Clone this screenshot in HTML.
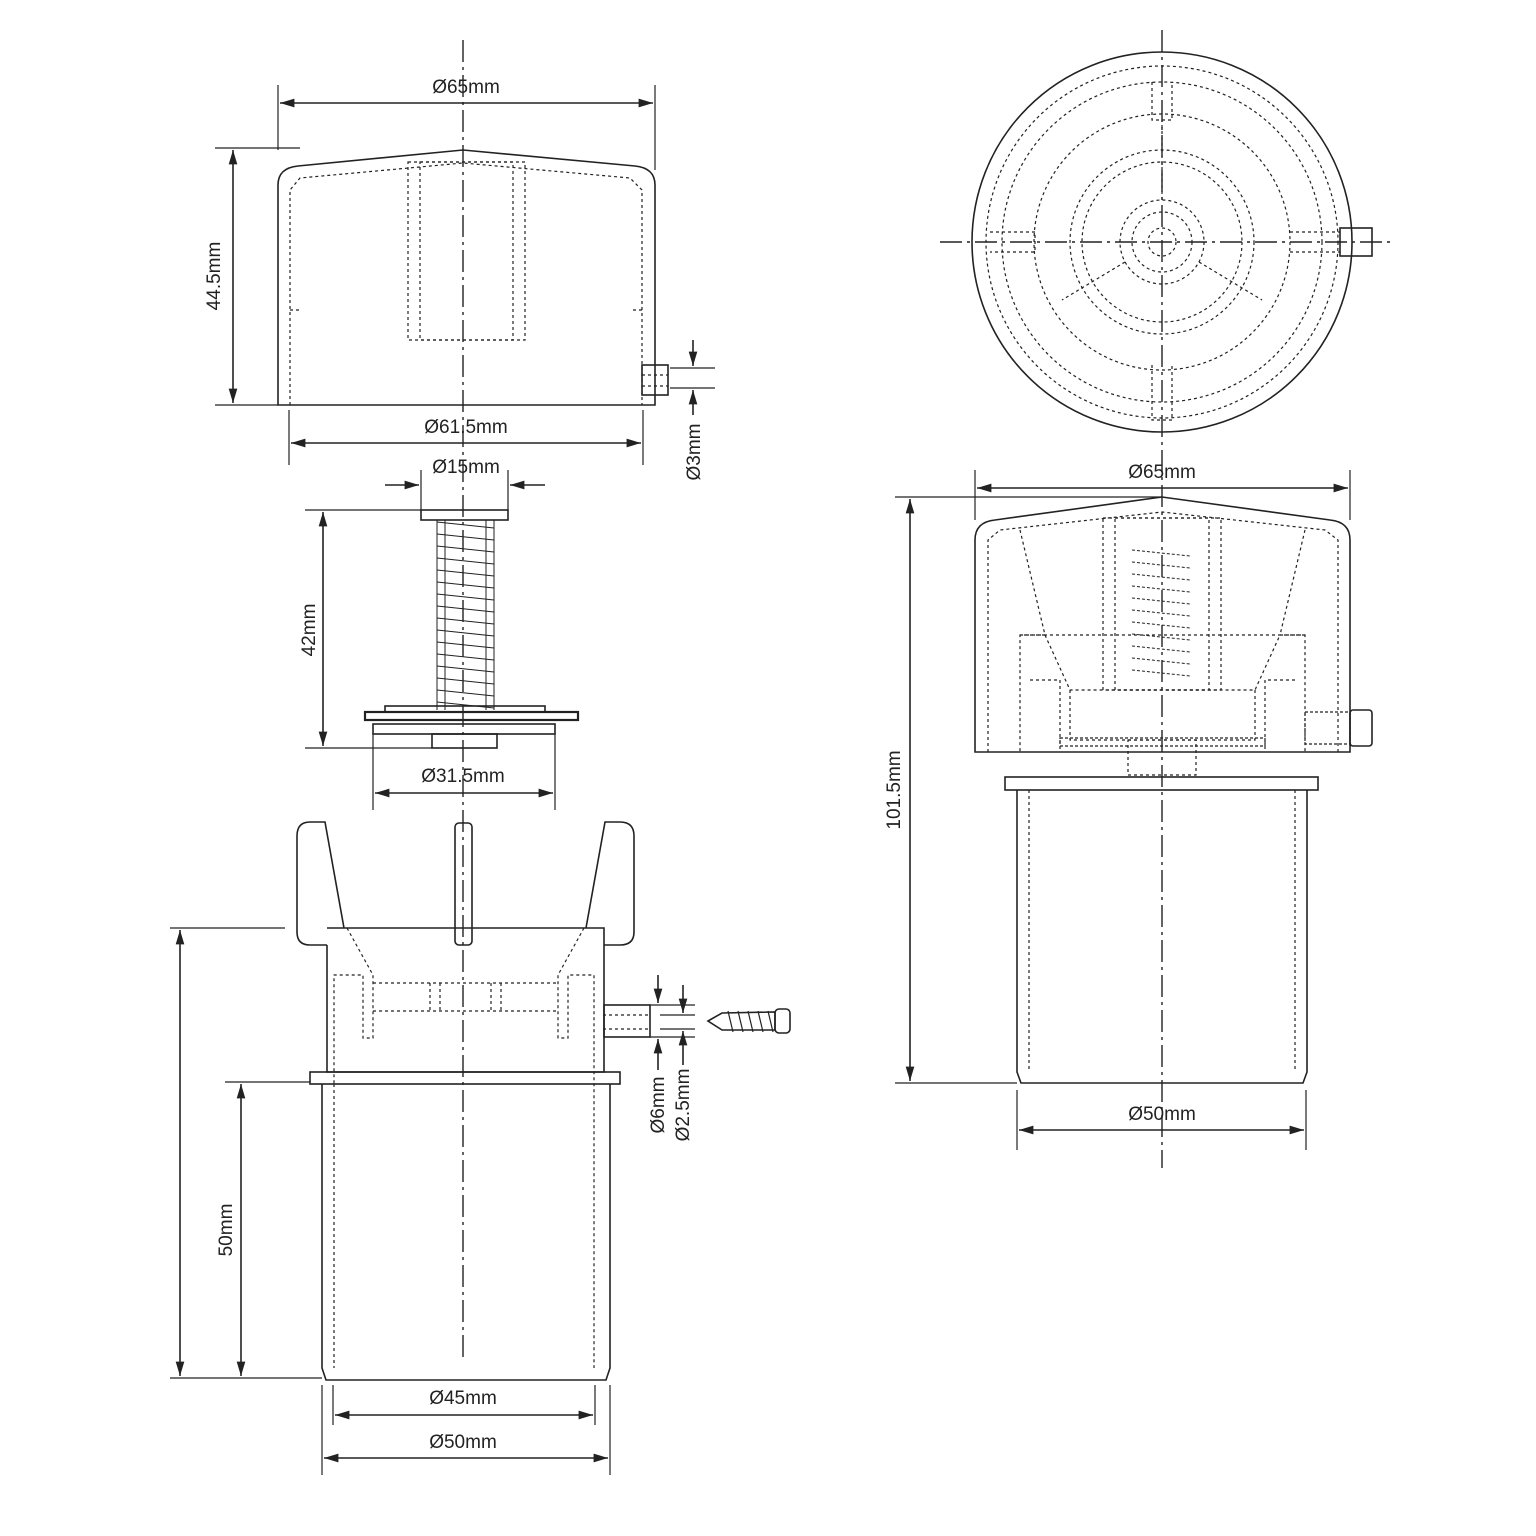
<!DOCTYPE html>
<html><head><meta charset="utf-8"><style>
html,body{margin:0;padding:0;background:#fff}
svg{display:block}
text{font-family:"Liberation Sans",sans-serif;font-size:19px;fill:#222}
</style></head><body>
<svg width="1536" height="1536" viewBox="0 0 1536 1536" xmlns="http://www.w3.org/2000/svg">
<defs>
<marker id="a" viewBox="0 0 10 10" refX="10" refY="5" markerWidth="9" markerHeight="9" orient="auto-start-reverse"><path d="M0,2 L10,5 L0,8 z" fill="#222"/></marker>
</defs>
<g fill="none" stroke="#222" stroke-width="1.6">
<!-- centerlines -->
<g stroke-width="1.4" stroke-dasharray="22,5,3,5">
<line x1="463" y1="40" x2="463" y2="1362"/>
<line x1="1162" y1="30" x2="1162" y2="1168"/>
<line x1="940" y1="242" x2="1395" y2="242"/>
</g>

<!-- TOP-LEFT CAP -->
<path d="M278,405 L278,185 Q278,168 298,166 L463,150 L635,166 Q655,168 655,185 L655,405 Z"/>
<g stroke-dasharray="3,3" stroke-width="1.2">
<path d="M290,405 L290,190 L300,178 L463,163 L630,178 L642,190 L642,405"/>
<path d="M290,310 L300,310 M642,310 L632,310"/>
<rect x="408" y="162" width="117" height="178"/>
<rect x="420" y="162" width="93" height="178"/>
</g>
<rect x="642" y="365" width="26" height="30"/>
<path d="M642,375 L668,375 M642,386 L668,386" stroke-dasharray="3,3" stroke-width="1.2"/>
<g stroke-width="1.2">
<line x1="278" y1="85" x2="278" y2="150"/><line x1="655" y1="85" x2="655" y2="170"/>
<line x1="215" y1="148" x2="300" y2="148"/><line x1="215" y1="405" x2="278" y2="405"/>
<line x1="289" y1="410" x2="289" y2="465"/><line x1="643" y1="410" x2="643" y2="465"/>
<line x1="670" y1="368" x2="715" y2="368"/><line x1="670" y1="388" x2="715" y2="388"/>
</g>
<line x1="280" y1="103" x2="653" y2="103" marker-start="url(#a)" marker-end="url(#a)"/>
<line x1="233" y1="150" x2="233" y2="403" marker-start="url(#a)" marker-end="url(#a)"/>
<line x1="291" y1="443" x2="641" y2="443" marker-start="url(#a)" marker-end="url(#a)"/>
<line x1="693" y1="340" x2="693" y2="366" marker-end="url(#a)"/>
<line x1="693" y1="415" x2="693" y2="390" marker-end="url(#a)"/>

<!-- SPRING -->
<rect x="421" y="510" width="87" height="10"/>
<path d="M437,522 L494,528 M437,534 L494,540 M437,546 L494,552 M437,558 L494,564 M437,570 L494,576 M437,582 L494,588 M437,594 L494,600 M437,606 L494,612 M437,618 L494,624 M437,630 L494,636 M437,642 L494,648 M437,654 L494,660 M437,666 L494,672 M437,678 L494,684 M437,690 L494,696 M437,702 L494,708" stroke-width="1.1"/>
<path d="M437,520 L437,710 M494,520 L494,710 M445,520 L445,710 M486,520 L486,710" stroke-width="1"/>
<rect x="385" y="706" width="160" height="6"/>
<rect x="365" y="712" width="213" height="8" stroke-width="2.2"/>
<rect x="373" y="724" width="182" height="10"/>
<rect x="432" y="734" width="65" height="14"/>
<g stroke-width="1.2">
<line x1="421" y1="470" x2="421" y2="510"/><line x1="508" y1="470" x2="508" y2="510"/>
<line x1="305" y1="510" x2="421" y2="510"/><line x1="305" y1="748" x2="432" y2="748"/>
<line x1="373" y1="734" x2="373" y2="810"/><line x1="555" y1="734" x2="555" y2="810"/>
</g>
<line x1="385" y1="485" x2="419" y2="485" marker-end="url(#a)"/>
<line x1="545" y1="485" x2="510" y2="485" marker-end="url(#a)"/>
<line x1="323" y1="512" x2="323" y2="746" marker-start="url(#a)" marker-end="url(#a)"/>
<line x1="375" y1="793" x2="553" y2="793" marker-start="url(#a)" marker-end="url(#a)"/>

<!-- BOTTOM BODY -->
<path d="M344,928 L325,822 L310,822 Q297,822 297,836 L297,932 Q297,945 310,945 L327,945"/>
<path d="M586,928 L605,822 L620,822 Q634,822 634,836 L634,932 Q634,945 620,945 L604,945"/>
<rect x="455" y="823" width="17" height="122" rx="4"/>
<path d="M327,945 L327,1072 L604,1072 L604,928 L327,928"/>
<rect x="310" y="1072" width="310" height="12"/>
<path d="M322,1084 L322,1368 L326,1380 L606,1380 L610,1368 L610,1084"/>
<g stroke-dasharray="3,3" stroke-width="1.2">
<path d="M347,928 L373,975 L373,1038 L363,1038 L363,975 L334,975 L334,1084 M334,1084 L334,1368"/>
<path d="M584,928 L558,975 L558,1038 L568,1038 L568,975 L594,975 L594,1084 L594,1368"/>
<path d="M373,983 L558,983 M373,1011 L558,1011 M430,983 L430,1011 M440,983 L440,1011 M491,983 L491,1011 M501,983 L501,1011"/>
<path d="M603,1015 L650,1015 M603,1029 L650,1029"/>
</g>
<rect x="604" y="1005" width="46" height="32"/>
<!-- screw -->
<path d="M708,1021 L722,1013 L775,1012 L775,1030 L722,1030 Z"/>
<path d="M728,1011 L733,1032 M738,1011 L743,1032 M748,1011 L753,1032 M758,1011 L763,1032 M768,1011 L773,1032" stroke-width="1.2"/>
<rect x="775" y="1009" width="15" height="24" rx="4"/>
<g stroke-width="1.2">
<line x1="170" y1="928" x2="285" y2="928"/>
<line x1="170" y1="1378" x2="322" y2="1378"/>
<line x1="225" y1="1082" x2="310" y2="1082"/>
<line x1="650" y1="1005" x2="695" y2="1005"/><line x1="650" y1="1037" x2="695" y2="1037"/>
<line x1="660" y1="1015" x2="695" y2="1015"/><line x1="660" y1="1029" x2="695" y2="1029"/>
<line x1="333" y1="1385" x2="333" y2="1425"/><line x1="595" y1="1385" x2="595" y2="1425"/>
<line x1="322" y1="1385" x2="322" y2="1475"/><line x1="610" y1="1385" x2="610" y2="1475"/>
</g>
<line x1="180" y1="930" x2="180" y2="1376" marker-start="url(#a)" marker-end="url(#a)"/>
<line x1="241" y1="1084" x2="241" y2="1376" marker-start="url(#a)" marker-end="url(#a)"/>
<line x1="658" y1="975" x2="658" y2="1003" marker-end="url(#a)"/>
<line x1="658" y1="1070" x2="658" y2="1039" marker-end="url(#a)"/>
<line x1="683" y1="985" x2="683" y2="1013" marker-end="url(#a)"/>
<line x1="683" y1="1065" x2="683" y2="1031" marker-end="url(#a)"/>
<line x1="335" y1="1415" x2="593" y2="1415" marker-start="url(#a)" marker-end="url(#a)"/>
<line x1="324" y1="1458" x2="608" y2="1458" marker-start="url(#a)" marker-end="url(#a)"/>

<!-- TOP VIEW -->
<circle cx="1162" cy="242" r="190"/>
<g stroke-dasharray="3,3" stroke-width="1.2">
<circle cx="1162" cy="242" r="176"/>
<circle cx="1162" cy="242" r="160"/>
<circle cx="1162" cy="242" r="128"/>
<circle cx="1162" cy="242" r="92"/>
<circle cx="1162" cy="242" r="80"/>
<circle cx="1162" cy="242" r="42"/>
<circle cx="1162" cy="242" r="30"/>
<circle cx="1162" cy="242" r="14"/>
<path d="M1152,82 L1152,120 L1172,120 L1172,82 M1152,365 L1152,420 L1172,420 L1172,365"/>
<path d="M990,232 L1035,232 L1035,252 L990,252 M1290,232 L1340,232 M1290,252 L1340,252"/>
<path d="M1162,200 L1162,120 M1125,262 L1062,300 M1199,262 L1262,300"/>
</g>
<rect x="1340" y="228" width="32" height="28"/>

<!-- RIGHT SIDE VIEW -->
<path d="M975,752 L975,540 Q975,522 995,520 L1162,497 L1330,520 Q1350,522 1350,540 L1350,752 Z"/>
<g stroke-dasharray="3,3" stroke-width="1.2">
<path d="M988,752 L988,540 L1000,530 L1162,512 L1325,530 L1338,540 L1338,752"/>
<path d="M1020,530 L1045,635 L1020,635 L1020,752 M1305,530 L1280,635 L1305,635 L1305,752"/>
<path d="M1020,635 L1305,635 M1045,635 L1070,690 L1255,690 L1280,635"/>
<path d="M1030,680 L1060,680 L1060,752 M1295,680 L1265,680 L1265,752 M1070,690 L1070,740 L1255,740 L1255,690"/>
<rect x="1103" y="518" width="118" height="172"/>
<rect x="1115" y="518" width="94" height="172"/>
<rect x="1128" y="740" width="68" height="35"/>
<path d="M1029,790 L1029,1070 M1295,790 L1295,1070"/>
</g>
<path d="M1132,550 L1190,556 M1132,562 L1190,568 M1132,574 L1190,580 M1132,586 L1190,592 M1132,598 L1190,604 M1132,610 L1190,616 M1132,622 L1190,628 M1132,634 L1190,640 M1132,646 L1190,652 M1132,658 L1190,664 M1132,670 L1190,676" stroke-width="1" stroke-dasharray="3,2"/>
<rect x="1060" y="738" width="205" height="8" stroke-dasharray="3,2" stroke-width="1.2"/>
<rect x="1305" y="712" width="45" height="32" stroke-dasharray="3,2" stroke-width="1.2"/>
<rect x="1350" y="710" width="22" height="36" rx="3"/>
<rect x="1005" y="777" width="313" height="13"/>
<path d="M1017,790 L1017,1072 L1021,1083 L1303,1083 L1307,1072 L1307,790"/>
<g stroke-width="1.2">
<line x1="975" y1="470" x2="975" y2="520"/><line x1="1350" y1="470" x2="1350" y2="520"/>
<line x1="895" y1="497" x2="1162" y2="497"/><line x1="895" y1="1083" x2="1017" y2="1083"/>
<line x1="1017" y1="1090" x2="1017" y2="1150"/><line x1="1306" y1="1090" x2="1306" y2="1150"/>
</g>
<line x1="977" y1="488" x2="1348" y2="488" marker-start="url(#a)" marker-end="url(#a)"/>
<line x1="910" y1="499" x2="910" y2="1081" marker-start="url(#a)" marker-end="url(#a)"/>
<line x1="1019" y1="1130" x2="1304" y2="1130" marker-start="url(#a)" marker-end="url(#a)"/>
</g>

<!-- TEXT -->
<text x="466" y="93" text-anchor="middle">Ø65mm</text>
<text x="466" y="433" text-anchor="middle">Ø61.5mm</text>
<text x="466" y="473" text-anchor="middle">Ø15mm</text>
<text x="463" y="782" text-anchor="middle">Ø31.5mm</text>
<text x="463" y="1404" text-anchor="middle">Ø45mm</text>
<text x="463" y="1448" text-anchor="middle">Ø50mm</text>
<text x="1162" y="478" text-anchor="middle">Ø65mm</text>
<text x="1162" y="1120" text-anchor="middle">Ø50mm</text>
<text transform="translate(220,276) rotate(-90)" text-anchor="middle">44.5mm</text>
<text transform="translate(315,630) rotate(-90)" text-anchor="middle">42mm</text>
<text transform="translate(232,1230) rotate(-90)" text-anchor="middle">50mm</text>
<text transform="translate(700,452) rotate(-90)" text-anchor="middle">Ø3mm</text>
<text transform="translate(664,1105) rotate(-90)" text-anchor="middle">Ø6mm</text>
<text transform="translate(689,1105) rotate(-90)" text-anchor="middle">Ø2.5mm</text>
<text transform="translate(900,790) rotate(-90)" text-anchor="middle">101.5mm</text>
</svg>
</body></html>
